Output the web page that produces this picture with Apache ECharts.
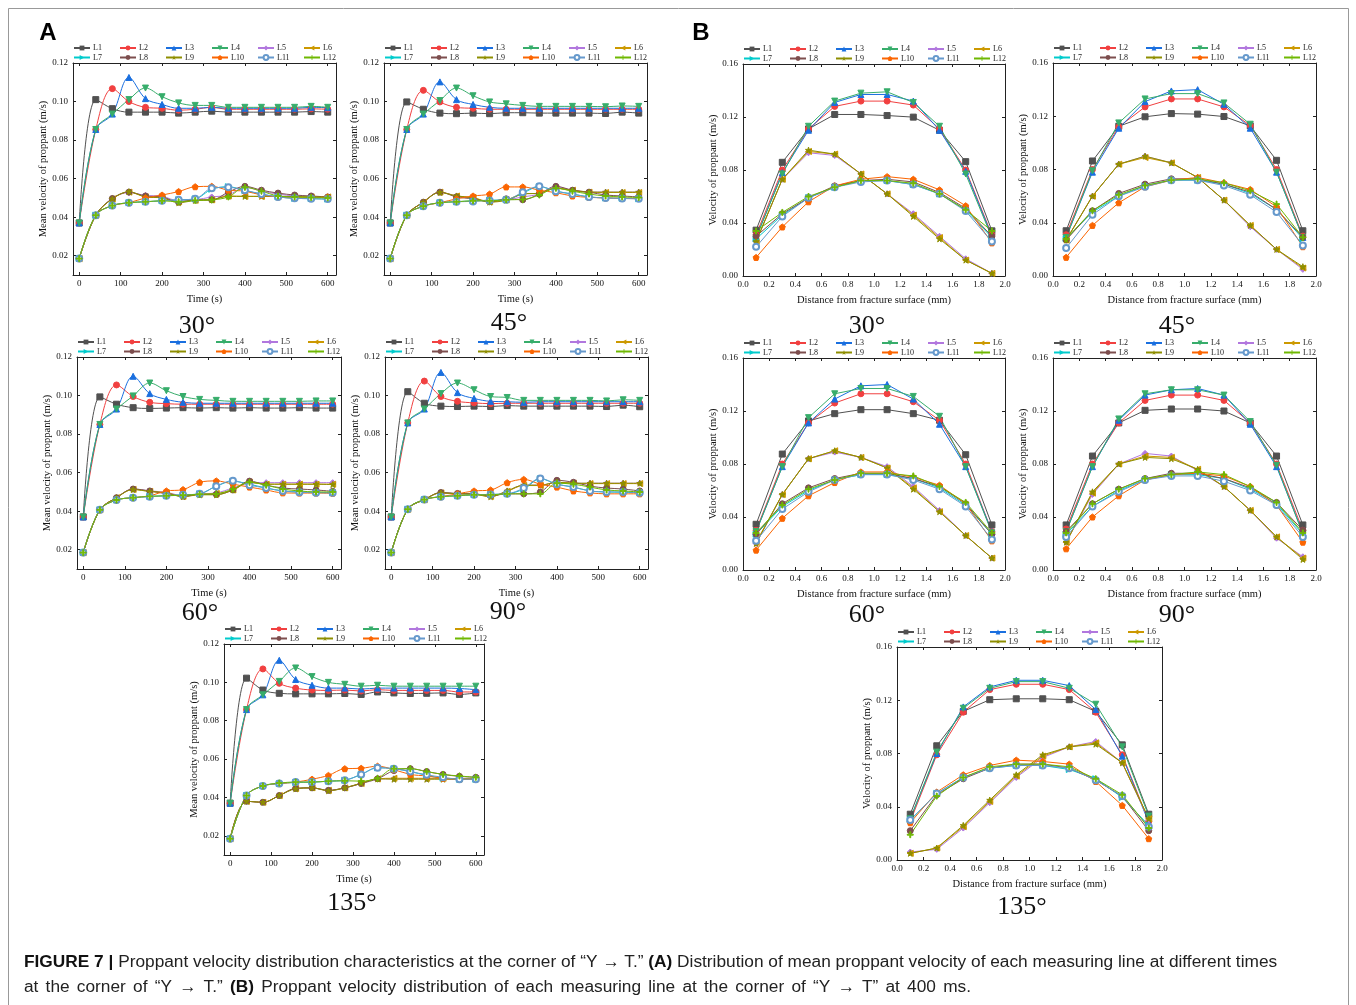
<!DOCTYPE html>
<html>
<head>
<meta charset="utf-8">
<title>Proppant velocity at the Y → T corner</title>
<script src="https://cdn.jsdelivr.net/npm/echarts@6/dist/echarts.min.js"></script>
<style>
  html, body { margin: 0; padding: 0; background: #fff; }
  #chart { width: 1356px; height: 1005px; }
</style>
</head>
<body>
<div id="chart"></div>
<script>
// ---- shared axes ----
const timeS = [0, 40, 80, 120, 160, 200, 240, 280, 320, 360, 400, 440, 480, 520, 560, 600];
const distMm = [0.1, 0.3, 0.5, 0.7, 0.9, 1.1, 1.3, 1.5, 1.7, 1.9];
const lineNames = ['L1', 'L2', 'L3', 'L4', 'L5', 'L6', 'L7', 'L8', 'L9', 'L10', 'L11', 'L12'];
const timeTicks = [0, 100, 200, 300, 400, 500, 600];
const meanVelTicks = [0.02, 0.04, 0.06, 0.08, 0.10, 0.12];
const distTicks = [0, 0.2, 0.4, 0.6, 0.8, 1.0, 1.2, 1.4, 1.6, 1.8, 2.0];
const velTicks = [0, 0.04, 0.08, 0.12, 0.16];

// ---- (A) mean velocity vs time, one row per measuring line L1..L12 ----
const meanVel30 = [
  [0.037, 0.101, 0.0963, 0.0945, 0.0945, 0.0945, 0.094, 0.0945, 0.095, 0.0945, 0.0945, 0.0945, 0.0945, 0.0945, 0.0948, 0.0945],
  [0.037, 0.0855, 0.1067, 0.100, 0.097, 0.0965, 0.0955, 0.096, 0.097, 0.096, 0.096, 0.096, 0.096, 0.096, 0.0962, 0.096],
  [0.037, 0.0855, 0.0935, 0.1125, 0.1015, 0.0985, 0.0965, 0.0965, 0.097, 0.0965, 0.0965, 0.0965, 0.0965, 0.0965, 0.097, 0.0968],
  [0.037, 0.0855, 0.0935, 0.101, 0.107, 0.1025, 0.0993, 0.098, 0.098, 0.097, 0.097, 0.097, 0.097, 0.097, 0.0975, 0.097],
  [0.0185, 0.041, 0.0497, 0.0528, 0.0513, 0.0508, 0.0485, 0.049, 0.0505, 0.0515, 0.0555, 0.0535, 0.052, 0.051, 0.0505, 0.0502],
  [0.0185, 0.041, 0.0495, 0.053, 0.0505, 0.050, 0.048, 0.0488, 0.049, 0.051, 0.0508, 0.0508, 0.0508, 0.0506, 0.0505, 0.0505],
  [0.0185, 0.041, 0.046, 0.0475, 0.048, 0.0485, 0.049, 0.0495, 0.0545, 0.0558, 0.0538, 0.052, 0.0505, 0.0498, 0.0496, 0.0494],
  [0.0185, 0.041, 0.0497, 0.053, 0.051, 0.0505, 0.0478, 0.049, 0.049, 0.053, 0.056, 0.054, 0.0525, 0.0515, 0.051, 0.0505],
  [0.0185, 0.041, 0.0495, 0.0532, 0.0505, 0.050, 0.0475, 0.0487, 0.049, 0.0508, 0.0508, 0.0508, 0.0508, 0.0507, 0.0505, 0.0505],
  [0.0185, 0.041, 0.046, 0.0475, 0.050, 0.0515, 0.0533, 0.0558, 0.056, 0.054, 0.0535, 0.0515, 0.0505, 0.050, 0.050, 0.0505],
  [0.0185, 0.041, 0.046, 0.0475, 0.048, 0.0485, 0.049, 0.0495, 0.055, 0.0555, 0.054, 0.052, 0.0505, 0.0498, 0.0496, 0.0494],
  [0.0185, 0.041, 0.046, 0.0475, 0.048, 0.0485, 0.048, 0.0487, 0.049, 0.0505, 0.0555, 0.0535, 0.051, 0.0505, 0.0502, 0.050]
];
const meanVel45 = [
  [0.037, 0.0998, 0.096, 0.094, 0.0937, 0.094, 0.0937, 0.0942, 0.0942, 0.094, 0.094, 0.094, 0.094, 0.0938, 0.0945, 0.094],
  [0.037, 0.0855, 0.1058, 0.0998, 0.097, 0.0965, 0.096, 0.096, 0.096, 0.096, 0.096, 0.096, 0.096, 0.096, 0.096, 0.096],
  [0.037, 0.0855, 0.0935, 0.1102, 0.101, 0.0985, 0.097, 0.0965, 0.0965, 0.0965, 0.0965, 0.0965, 0.0965, 0.0965, 0.0965, 0.0965],
  [0.037, 0.0855, 0.0935, 0.1005, 0.107, 0.103, 0.0998, 0.0988, 0.098, 0.0975, 0.0975, 0.0975, 0.0975, 0.0973, 0.0977, 0.0975],
  [0.0185, 0.041, 0.0478, 0.053, 0.051, 0.0498, 0.0482, 0.049, 0.0505, 0.052, 0.0555, 0.054, 0.053, 0.053, 0.053, 0.053],
  [0.0185, 0.041, 0.0478, 0.053, 0.051, 0.0502, 0.048, 0.049, 0.052, 0.0525, 0.055, 0.054, 0.053, 0.0528, 0.0528, 0.0528],
  [0.0185, 0.041, 0.0457, 0.0475, 0.048, 0.0485, 0.0488, 0.049, 0.0525, 0.0558, 0.0535, 0.052, 0.0505, 0.050, 0.0498, 0.0496],
  [0.0185, 0.041, 0.0478, 0.053, 0.0505, 0.0495, 0.048, 0.0495, 0.049, 0.052, 0.056, 0.054, 0.053, 0.0515, 0.051, 0.0505],
  [0.0185, 0.041, 0.0478, 0.0528, 0.051, 0.050, 0.0478, 0.0488, 0.052, 0.0525, 0.055, 0.0538, 0.053, 0.053, 0.053, 0.053],
  [0.0185, 0.041, 0.0457, 0.0475, 0.0495, 0.051, 0.052, 0.0557, 0.0557, 0.054, 0.0527, 0.051, 0.0503, 0.050, 0.0498, 0.0497],
  [0.0185, 0.041, 0.0457, 0.0475, 0.048, 0.0482, 0.0487, 0.049, 0.053, 0.056, 0.0535, 0.052, 0.0505, 0.050, 0.0497, 0.0495],
  [0.0185, 0.041, 0.0457, 0.0475, 0.048, 0.0485, 0.0485, 0.049, 0.0492, 0.0515, 0.055, 0.0535, 0.052, 0.051, 0.0505, 0.0502]
];
const meanVel60 = [
  [0.037, 0.0993, 0.0955, 0.0937, 0.0933, 0.0935, 0.0937, 0.0935, 0.0937, 0.0935, 0.0937, 0.0935, 0.0935, 0.0937, 0.0935, 0.0935],
  [0.037, 0.085, 0.1055, 0.0995, 0.0965, 0.0958, 0.0955, 0.0955, 0.0955, 0.0955, 0.0955, 0.0955, 0.0955, 0.0955, 0.0955, 0.0955],
  [0.037, 0.085, 0.093, 0.110, 0.101, 0.098, 0.0965, 0.096, 0.096, 0.096, 0.096, 0.096, 0.096, 0.096, 0.096, 0.096],
  [0.037, 0.085, 0.093, 0.0998, 0.1065, 0.1025, 0.0995, 0.098, 0.0975, 0.097, 0.097, 0.097, 0.097, 0.097, 0.0972, 0.0972],
  [0.0185, 0.0407, 0.047, 0.0515, 0.0505, 0.0498, 0.048, 0.049, 0.0495, 0.052, 0.0545, 0.0548, 0.0548, 0.0548, 0.0548, 0.0548],
  [0.0185, 0.0407, 0.047, 0.0513, 0.0503, 0.0495, 0.0477, 0.0488, 0.0492, 0.051, 0.055, 0.054, 0.054, 0.054, 0.054, 0.054],
  [0.0185, 0.0407, 0.0458, 0.047, 0.0477, 0.048, 0.0485, 0.049, 0.053, 0.0555, 0.054, 0.052, 0.0505, 0.050, 0.0498, 0.0495],
  [0.0185, 0.0407, 0.047, 0.0515, 0.0505, 0.049, 0.0478, 0.0487, 0.0487, 0.051, 0.0556, 0.0535, 0.052, 0.0515, 0.051, 0.0503],
  [0.0185, 0.0407, 0.047, 0.0512, 0.0502, 0.0495, 0.0475, 0.0485, 0.0485, 0.051, 0.055, 0.054, 0.054, 0.054, 0.054, 0.0538],
  [0.0185, 0.0407, 0.0458, 0.047, 0.048, 0.0505, 0.0512, 0.055, 0.0557, 0.054, 0.0525, 0.051, 0.0495, 0.0494, 0.0494, 0.0493],
  [0.0185, 0.0407, 0.0458, 0.047, 0.0475, 0.048, 0.0485, 0.049, 0.053, 0.0558, 0.0535, 0.052, 0.0505, 0.0498, 0.0496, 0.0495],
  [0.0185, 0.0407, 0.0458, 0.047, 0.0477, 0.048, 0.0483, 0.0488, 0.049, 0.0515, 0.055, 0.0535, 0.0515, 0.0505, 0.050, 0.050]
];
const meanVel90 = [
  [0.037, 0.102, 0.096, 0.0945, 0.0943, 0.0945, 0.0943, 0.0948, 0.0945, 0.0945, 0.0945, 0.0945, 0.0945, 0.0943, 0.095, 0.0942],
  [0.037, 0.0858, 0.1075, 0.0995, 0.097, 0.0962, 0.0958, 0.096, 0.096, 0.096, 0.096, 0.096, 0.096, 0.096, 0.096, 0.096],
  [0.037, 0.0858, 0.093, 0.112, 0.1015, 0.0985, 0.097, 0.0968, 0.0965, 0.0968, 0.0968, 0.0968, 0.0968, 0.0968, 0.0968, 0.0968],
  [0.037, 0.0858, 0.093, 0.101, 0.1065, 0.103, 0.0995, 0.099, 0.0975, 0.0975, 0.0975, 0.0975, 0.0975, 0.0972, 0.0978, 0.0975],
  [0.0185, 0.041, 0.046, 0.0495, 0.049, 0.049, 0.0478, 0.0505, 0.0535, 0.0535, 0.055, 0.0545, 0.0545, 0.0545, 0.0545, 0.0545],
  [0.0185, 0.041, 0.046, 0.0495, 0.049, 0.0488, 0.0477, 0.0503, 0.0533, 0.0533, 0.055, 0.0545, 0.0543, 0.0543, 0.0543, 0.0543],
  [0.0185, 0.041, 0.046, 0.0475, 0.048, 0.0485, 0.0487, 0.049, 0.0515, 0.0568, 0.054, 0.0525, 0.0505, 0.050, 0.0498, 0.0495],
  [0.0185, 0.041, 0.046, 0.0497, 0.0492, 0.049, 0.048, 0.049, 0.049, 0.050, 0.056, 0.055, 0.053, 0.052, 0.0515, 0.0505],
  [0.0185, 0.041, 0.046, 0.0495, 0.049, 0.0488, 0.0475, 0.0505, 0.0535, 0.0535, 0.055, 0.0545, 0.0545, 0.0545, 0.0545, 0.0545],
  [0.0185, 0.041, 0.046, 0.0475, 0.049, 0.0505, 0.051, 0.0548, 0.0565, 0.054, 0.0525, 0.0505, 0.0495, 0.049, 0.049, 0.049],
  [0.0185, 0.041, 0.046, 0.0475, 0.048, 0.0485, 0.0487, 0.049, 0.052, 0.057, 0.054, 0.0525, 0.0505, 0.050, 0.050, 0.0495],
  [0.0185, 0.041, 0.046, 0.0475, 0.048, 0.0485, 0.0485, 0.049, 0.049, 0.049, 0.0545, 0.054, 0.0525, 0.051, 0.0505, 0.050]
];
const meanVel135 = [
  [0.037, 0.1022, 0.096, 0.0943, 0.094, 0.094, 0.094, 0.0942, 0.0937, 0.095, 0.0945, 0.0942, 0.0943, 0.0945, 0.0937, 0.0945],
  [0.037, 0.0858, 0.107, 0.0995, 0.097, 0.096, 0.0958, 0.096, 0.0955, 0.0962, 0.0958, 0.0958, 0.0958, 0.0958, 0.095, 0.095],
  [0.037, 0.0858, 0.0935, 0.1115, 0.1015, 0.0985, 0.097, 0.097, 0.0965, 0.097, 0.097, 0.097, 0.097, 0.097, 0.0968, 0.0962],
  [0.037, 0.0858, 0.0935, 0.1005, 0.1075, 0.103, 0.100, 0.099, 0.098, 0.0985, 0.098, 0.098, 0.098, 0.098, 0.098, 0.098],
  [0.0185, 0.038, 0.0375, 0.041, 0.0447, 0.045, 0.0437, 0.045, 0.0473, 0.0497, 0.0498, 0.0498, 0.0498, 0.0498, 0.0498, 0.0498],
  [0.0185, 0.038, 0.0375, 0.041, 0.0447, 0.045, 0.0437, 0.045, 0.0473, 0.0497, 0.050, 0.050, 0.050, 0.050, 0.0498, 0.0498],
  [0.0185, 0.041, 0.046, 0.0472, 0.0478, 0.048, 0.0485, 0.049, 0.052, 0.0555, 0.055, 0.0535, 0.0515, 0.050, 0.0495, 0.0495],
  [0.0185, 0.038, 0.0375, 0.041, 0.0447, 0.045, 0.0437, 0.045, 0.0473, 0.0497, 0.054, 0.055, 0.0535, 0.052, 0.051, 0.0505],
  [0.0185, 0.038, 0.0375, 0.041, 0.0445, 0.045, 0.0435, 0.045, 0.0475, 0.0497, 0.0495, 0.0495, 0.0495, 0.0495, 0.0495, 0.0495],
  [0.0185, 0.041, 0.046, 0.0472, 0.048, 0.0495, 0.0515, 0.055, 0.0552, 0.0563, 0.0545, 0.052, 0.0512, 0.050, 0.0495, 0.0495],
  [0.0185, 0.041, 0.046, 0.0473, 0.048, 0.048, 0.0485, 0.049, 0.052, 0.0555, 0.055, 0.0535, 0.0518, 0.0505, 0.0495, 0.0495],
  [0.0185, 0.041, 0.046, 0.0475, 0.048, 0.048, 0.0485, 0.0487, 0.0485, 0.050, 0.055, 0.055, 0.0535, 0.052, 0.0512, 0.0505]
];

// ---- (B) velocity vs distance from the fracture surface at 400 ms ----
const vel30 = [
  [0.0346, 0.0858, 0.111, 0.1219, 0.1219, 0.1211, 0.1199, 0.110, 0.0863, 0.0341],
  [0.031, 0.080, 0.111, 0.128, 0.132, 0.132, 0.129, 0.111, 0.080, 0.031],
  [0.029, 0.078, 0.110, 0.131, 0.137, 0.137, 0.132, 0.110, 0.079, 0.030],
  [0.029, 0.077, 0.113, 0.132, 0.138, 0.139, 0.131, 0.113, 0.077, 0.029],
  [0.026, 0.073, 0.093, 0.091, 0.077, 0.062, 0.047, 0.030, 0.013, 0.002],
  [0.026, 0.073, 0.094, 0.092, 0.077, 0.062, 0.046, 0.029, 0.012, 0.002],
  [0.028, 0.046, 0.059, 0.067, 0.072, 0.072, 0.069, 0.062, 0.050, 0.029],
  [0.030, 0.047, 0.059, 0.068, 0.072, 0.073, 0.071, 0.063, 0.051, 0.030],
  [0.026, 0.073, 0.095, 0.092, 0.077, 0.062, 0.045, 0.028, 0.012, 0.002],
  [0.014, 0.037, 0.056, 0.068, 0.073, 0.075, 0.073, 0.065, 0.053, 0.025],
  [0.022, 0.045, 0.059, 0.067, 0.071, 0.072, 0.069, 0.062, 0.049, 0.026],
  [0.034, 0.048, 0.060, 0.067, 0.072, 0.072, 0.070, 0.062, 0.050, 0.034]
];
const vel45 = [
  [0.034, 0.0864, 0.1125, 0.1196, 0.122, 0.1216, 0.1198, 0.1128, 0.0869, 0.034],
  [0.031, 0.080, 0.112, 0.127, 0.133, 0.133, 0.127, 0.113, 0.080, 0.030],
  [0.029, 0.078, 0.111, 0.131, 0.139, 0.140, 0.129, 0.111, 0.078, 0.029],
  [0.029, 0.079, 0.115, 0.133, 0.137, 0.137, 0.130, 0.114, 0.078, 0.029],
  [0.027, 0.060, 0.084, 0.090, 0.085, 0.074, 0.057, 0.037, 0.020, 0.005],
  [0.027, 0.060, 0.084, 0.089, 0.085, 0.074, 0.057, 0.038, 0.020, 0.006],
  [0.028, 0.048, 0.060, 0.068, 0.072, 0.072, 0.069, 0.062, 0.050, 0.028],
  [0.027, 0.049, 0.062, 0.069, 0.073, 0.073, 0.069, 0.063, 0.050, 0.029],
  [0.027, 0.060, 0.084, 0.090, 0.085, 0.074, 0.057, 0.038, 0.020, 0.007],
  [0.014, 0.038, 0.055, 0.067, 0.072, 0.074, 0.070, 0.065, 0.052, 0.022],
  [0.021, 0.046, 0.060, 0.067, 0.072, 0.072, 0.068, 0.061, 0.048, 0.023],
  [0.028, 0.049, 0.061, 0.068, 0.072, 0.073, 0.070, 0.064, 0.054, 0.029]
];
const vel60 = [
  [0.0345, 0.0875, 0.1125, 0.118, 0.121, 0.121, 0.118, 0.113, 0.087, 0.034],
  [0.030, 0.080, 0.111, 0.126, 0.133, 0.133, 0.127, 0.113, 0.080, 0.029],
  [0.029, 0.078, 0.111, 0.129, 0.139, 0.140, 0.129, 0.110, 0.078, 0.029],
  [0.029, 0.078, 0.115, 0.133, 0.137, 0.137, 0.131, 0.116, 0.078, 0.028],
  [0.020, 0.057, 0.084, 0.089, 0.085, 0.078, 0.063, 0.045, 0.026, 0.009],
  [0.021, 0.057, 0.084, 0.090, 0.085, 0.077, 0.062, 0.044, 0.026, 0.009],
  [0.027, 0.048, 0.060, 0.068, 0.072, 0.072, 0.069, 0.062, 0.049, 0.027],
  [0.027, 0.050, 0.062, 0.069, 0.073, 0.073, 0.069, 0.063, 0.050, 0.027],
  [0.020, 0.057, 0.084, 0.090, 0.085, 0.077, 0.061, 0.044, 0.026, 0.009],
  [0.015, 0.039, 0.056, 0.066, 0.074, 0.074, 0.070, 0.064, 0.050, 0.022],
  [0.022, 0.046, 0.059, 0.068, 0.072, 0.072, 0.068, 0.061, 0.048, 0.023],
  [0.028, 0.049, 0.061, 0.068, 0.073, 0.073, 0.071, 0.063, 0.051, 0.028]
];
const vel90 = [
  [0.034, 0.086, 0.111, 0.1205, 0.1215, 0.1215, 0.120, 0.111, 0.086, 0.034],
  [0.031, 0.080, 0.111, 0.128, 0.132, 0.132, 0.128, 0.111, 0.080, 0.030],
  [0.029, 0.078, 0.113, 0.132, 0.136, 0.137, 0.132, 0.110, 0.078, 0.028],
  [0.029, 0.078, 0.114, 0.133, 0.136, 0.136, 0.132, 0.112, 0.079, 0.027],
  [0.021, 0.057, 0.080, 0.088, 0.086, 0.075, 0.063, 0.045, 0.024, 0.010],
  [0.021, 0.058, 0.080, 0.086, 0.085, 0.076, 0.063, 0.045, 0.025, 0.009],
  [0.027, 0.048, 0.060, 0.068, 0.072, 0.072, 0.069, 0.061, 0.050, 0.027],
  [0.029, 0.050, 0.061, 0.069, 0.073, 0.073, 0.069, 0.062, 0.051, 0.030],
  [0.021, 0.059, 0.080, 0.085, 0.084, 0.076, 0.063, 0.045, 0.025, 0.008],
  [0.016, 0.040, 0.056, 0.068, 0.072, 0.073, 0.071, 0.063, 0.049, 0.021],
  [0.025, 0.048, 0.059, 0.068, 0.071, 0.071, 0.067, 0.060, 0.049, 0.025],
  [0.028, 0.050, 0.061, 0.069, 0.072, 0.074, 0.072, 0.063, 0.051, 0.028]
];
const vel135 = [
  [0.0344, 0.0858, 0.1116, 0.1204, 0.1211, 0.1211, 0.1204, 0.1116, 0.0865, 0.0344],
  [0.029, 0.079, 0.111, 0.128, 0.132, 0.132, 0.128, 0.111, 0.079, 0.029],
  [0.031, 0.080, 0.115, 0.130, 0.135, 0.135, 0.131, 0.113, 0.078, 0.028],
  [0.031, 0.081, 0.114, 0.129, 0.134, 0.134, 0.129, 0.117, 0.085, 0.033],
  [0.006, 0.008, 0.024, 0.043, 0.062, 0.077, 0.085, 0.089, 0.073, 0.030],
  [0.005, 0.009, 0.025, 0.044, 0.063, 0.078, 0.085, 0.088, 0.073, 0.031],
  [0.030, 0.050, 0.062, 0.069, 0.071, 0.071, 0.068, 0.061, 0.047, 0.026],
  [0.022, 0.049, 0.061, 0.069, 0.072, 0.072, 0.069, 0.060, 0.048, 0.022],
  [0.005, 0.009, 0.026, 0.045, 0.064, 0.079, 0.085, 0.087, 0.073, 0.031],
  [0.028, 0.051, 0.064, 0.071, 0.075, 0.074, 0.072, 0.059, 0.041, 0.016],
  [0.030, 0.050, 0.062, 0.069, 0.071, 0.071, 0.069, 0.060, 0.048, 0.025],
  [0.019, 0.048, 0.062, 0.070, 0.072, 0.072, 0.070, 0.061, 0.049, 0.024]
];

// ---- series styling ----
const lineColors = ['#515151', '#F14040', '#1A6FDF', '#37AD6B', '#B177DE', '#CC9900',
                    '#00CBCC', '#7D4E4E', '#8E8E00', '#FB6501', '#6699CC', '#6FB802'];
const lineSymbols = [
  'rect', 'circle', 'triangle',
  'path://M0,0L10,0L5,9Z',                 // down triangle
  'diamond',
  'path://M9,0L9,10L0,5Z',                 // left triangle
  'path://M0,0L9,5L0,10Z',                 // right triangle
  'circle',
  'path://M5,0L6.2,3.6L10,3.6L6.9,5.9L8.1,9.5L5,7.3L1.9,9.5L3.1,5.9L0,3.6L3.8,3.6Z', // star
  'path://M5,0L10,3.6L8.1,9.5L1.9,9.5L0,3.6Z',                                     // pentagon
  'emptyCircle',
  'path://M4.2,0H5.8V4.2H10V5.8H5.8V10H4.2V5.8H0V4.2H4.2Z'                          // plus
];

const serif = '"Liberation Serif", "Times New Roman", serif';
const sans = '"Liberation Sans", Arial, sans-serif';

// panel layout: plot rectangle in px, caption centre
const panels = [
  { kind: 'A', rows: meanVel30,  grid: { left: 73,  top: 63,  width: 263, height: 212 }, label: '30°',  at: [197, 326] },
  { kind: 'A', rows: meanVel45,  grid: { left: 384, top: 63,  width: 263, height: 212 }, label: '45°',  at: [509, 323] },
  { kind: 'A', rows: meanVel60,  grid: { left: 77,  top: 357, width: 264, height: 212 }, label: '60°',  at: [200, 613] },
  { kind: 'A', rows: meanVel90,  grid: { left: 385, top: 357, width: 263, height: 212 }, label: '90°',  at: [508, 612] },
  { kind: 'A', rows: meanVel135, grid: { left: 224, top: 644, width: 260, height: 211 }, label: '135°', at: [352, 903] },
  { kind: 'B', rows: vel30,  grid: { left: 743,  top: 64,  width: 262, height: 212 }, label: '30°',  at: [867, 326] },
  { kind: 'B', rows: vel45,  grid: { left: 1053, top: 63,  width: 263, height: 213 }, label: '45°',  at: [1177, 326] },
  { kind: 'B', rows: vel60,  grid: { left: 743,  top: 358, width: 262, height: 212 }, label: '60°',  at: [867, 615] },
  { kind: 'B', rows: vel90,  grid: { left: 1053, top: 358, width: 263, height: 212 }, label: '90°',  at: [1177, 615] },
  { kind: 'B', rows: vel135, grid: { left: 897,  top: 647, width: 265, height: 213 }, label: '135°', at: [1022, 907] }
];

const grids = [], xAxes = [], yAxes = [], series = [], legends = [], graphics = [];
const axisLineStyle = { color: '#222', width: 1 };
const tickLabel = { fontFamily: serif, fontSize: 9, color: '#111' };
const legendPitch = 46;

panels.forEach((p, pi) => {
  grids.push(Object.assign({ containLabel: false }, p.grid));
  const isA = p.kind === 'A';
  const xRange = isA ? { min: -15, max: 620 } : { min: 0, max: 2 };
  const yRange = isA ? { min: 0.01, max: 0.12 } : { min: 0, max: 0.16 };
  const xT = isA ? timeTicks : distTicks;
  const yT = isA ? meanVelTicks : velTicks;
  const xFmt = v => isA ? String(Math.round(v)) : v.toFixed(1);
  const yFmt = v => v.toFixed(2);

  const base = (pos, ticks, range) => Object.assign({
    type: 'value', gridIndex: pi, position: pos,
    axisLine: { show: true, onZero: false, lineStyle: axisLineStyle },
    axisTick: { show: true, inside: true, length: 3, customValues: ticks, lineStyle: axisLineStyle },
    splitLine: { show: false }
  }, range);

  xAxes.push(Object.assign(base('bottom', xT, xRange), {
    name: isA ? 'Time (s)' : 'Distance from fracture surface (mm)',
    nameLocation: 'middle', nameGap: 19,
    nameTextStyle: { fontFamily: serif, fontSize: 10.5, color: '#111' },
    axisLabel: Object.assign({ show: true, margin: 4, customValues: xT, formatter: xFmt }, tickLabel)
  }));
  xAxes.push(Object.assign(base('top', xT, xRange), { axisLabel: { show: false } }));
  yAxes.push(Object.assign(base('left', yT, yRange), {
    name: isA ? 'Mean velocity of proppant (m/s)' : 'Velocity of proppant (m/s)',
    nameLocation: 'middle', nameGap: 23,
    nameTextStyle: { fontFamily: serif, fontSize: 10.5, color: '#111' },
    axisLabel: Object.assign({ show: true, margin: 5, customValues: yT, formatter: yFmt }, tickLabel)
  }));
  yAxes.push(Object.assign(base('right', yT, yRange), { axisLabel: { show: false } }));

  const xs = isA ? timeS : distMm;
  p.rows.forEach((vals, li) => {
    series.push({
      type: 'line', name: lineNames[li],
      xAxisIndex: 2 * pi, yAxisIndex: 2 * pi,
      data: xs.map((x, k) => [x, vals[k]]),
      smooth: isA ? 0.35 : false,
      symbol: lineSymbols[li], symbolSize: 6,
      itemStyle: { color: lineColors[li], borderColor: lineColors[li] },
      lineStyle: { color: lineColors[li], width: 1 },
      emphasis: { disabled: true },
      animation: false
    });
  });

  // legend key: 2 rows x 6 columns above each plot, one legend per entry so columns line up
  lineNames.forEach((name, li) => {
    const row = Math.floor(li / 6), col = li % 6;
    legends.push({
      left: p.grid.left + col * legendPitch,
      top: p.grid.top - 19 + row * 9.5,
      orient: 'horizontal', padding: 0,
      itemWidth: 16, itemHeight: 6, itemGap: 0,
      selectedMode: false,
      data: [name],
      textStyle: { fontFamily: serif, fontSize: 8, color: '#222', padding: [0, 0, 0, -2] }
    });
  });

  graphics.push({
    type: 'text', x: p.at[0], y: p.at[1],
    style: { text: p.label, fontFamily: serif, fontSize: 26, fill: '#111', textAlign: 'center', textVerticalAlign: 'middle' }
  });
});

// caption: words joined by fixed-width gaps on the second line
const captionLine1 = '{b|FIGURE 7 |} Proppant velocity distribution characteristics at the corner of \u201cY \u2192 T.\u201d {b|(A)} Distribution of mean proppant velocity of each measuring line at different times';
const captionLine2Words = ['at', 'the', 'corner', 'of', '\u201cY', '\u2192', 'T.\u201d', '{b|(B)}', 'Proppant', 'velocity',
  'distribution', 'of', 'each', 'measuring', 'line', 'at', 'the', 'corner', 'of', '\u201cY', '\u2192', 'T\u201d', 'at', '400', 'ms.'];
const capRich = {
  b: { fontFamily: sans, fontSize: 17.3, fontWeight: 'bold', fill: '#111' },
  s: { fontFamily: sans, fontSize: 17.3, width: 7.2 }
};

graphics.push(
  { type: 'rect', shape: { x: 8.5, y: 8.5, width: 1340, height: 1010 }, style: { fill: 'none', stroke: '#999', lineWidth: 1 }, z: -1 },
  { type: 'text', x: 48, y: 33, style: { text: 'A', fontFamily: sans, fontWeight: 'bold', fontSize: 24, fill: '#000', textAlign: 'center', textVerticalAlign: 'middle' } },
  { type: 'text', x: 701, y: 33, style: { text: 'B', fontFamily: sans, fontWeight: 'bold', fontSize: 24, fill: '#000', textAlign: 'center', textVerticalAlign: 'middle' } },
  {
    type: 'text', x: 24, y: 962,
    style: { text: captionLine1, fontFamily: sans, fontSize: 17.3, fill: '#222', textVerticalAlign: 'middle', rich: capRich }
  },
  {
    type: 'text', x: 24, y: 987,
    style: { text: captionLine2Words.join('{s| }'), fontFamily: sans, fontSize: 17.3, fill: '#222', textVerticalAlign: 'middle', rich: capRich }
  }
);

const chart = echarts.init(document.getElementById('chart'), null, { renderer: 'canvas' });
chart.setOption({
  backgroundColor: '#fff',
  animation: false,
  grid: grids,
  xAxis: xAxes,
  yAxis: yAxes,
  legend: legends,
  series: series,
  graphic: graphics
});
</script>
</body>
</html>
